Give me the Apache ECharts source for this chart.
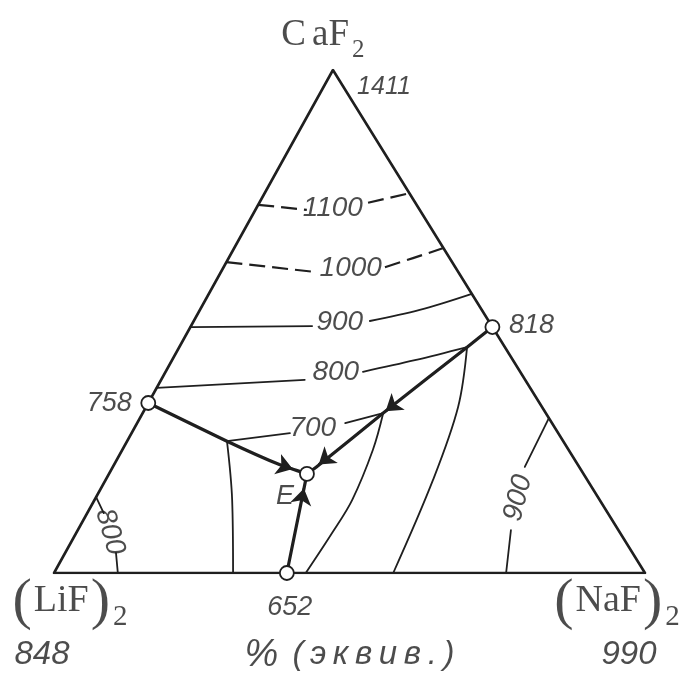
<!DOCTYPE html>
<html>
<head>
<meta charset="utf-8">
<script src="https://cdn.jsdelivr.net/npm/echarts@6/dist/echarts.min.js"></script>
<style>
  html, body { margin: 0; padding: 0; background: #ffffff; }
  #chart { width: 689px; height: 679px; }
</style>
</head>
<body>
<div id="chart"></div>
<script>
// Compositions are written as [NaF %, CaF2 %] (equivalent %); the rest is (LiF)2.

// Corners of the diagram and melting points of the pure salts
const vertexComp = [[0, 0], [100, 0], [0, 100]];          // (LiF)2, (NaF)2, CaF2
const vertexTemps = [848, 990, 1411];

// Binary eutectics and the ternary eutectic E
const pointNames = ['758', '818', 'E', '652'];
const pointComp = [[0, 33.8], [51.1, 48.9], [33.5, 19.7], [39.4, 0]];

// Boundary curves running down to E
const boundaryLiFCaF2 = [[0, 33.8], [16.9, 26.2], [28.1, 21.5], [33.5, 19.7]];
const boundaryNaFCaF2 = [[51.1, 48.9], [48.7, 44.9], [40.7, 31.8], [34.5, 21.1], [33.5, 19.7]];
const boundaryLiFNaF = [[39.4, 0], [33.5, 19.7]];

// Isotherms (each split where its label sits)
const iso1100 = [[[0, 73.2], [8.7, 72.2]], [[18.4, 73.6], [24.5, 75.5]]];
const iso1000 = [[[0, 61.8], [16.3, 59.8]], [[27.3, 60.8], [31.2, 62.6], [35.4, 64.6]]];
const iso900 = [[[0, 48.9], [20.5, 49.1]], [[29.8, 50.1], [37.2, 52.3], [44.5, 55.5]]];
const iso800 = [[[0, 36.8], [24.3, 38.4]], [[33.4, 40.0], [41.1, 42.3], [48.7, 44.9]]];
const iso800NaF = [[[48.7, 44.9], [52.8, 33.0], [55.4, 18.5], [57.4, 0]]];
const iso800LiF = [[[0, 15.1], [2.8, 11.9]], [[8.6, 4.0], [10.8, 0]]];
const iso700 = [[[16.9, 26.2], [26.8, 27.8]], [[35.2, 29.8], [40.7, 31.8]]];
const iso700LiF = [[[16.9, 26.2], [23.3, 14.5], [30.3, 0]]];
const iso700NaF = [[[40.7, 31.8], [42.4, 24.5], [43.6, 14.5], [43.3, 8.0], [42.6, 0]]];
const iso900NaF = [[[69.2, 30.8], [69.7, 21.1]], [[73.3, 8.5], [76.5, 0]]];

// Isotherm labels
const isoLabelText = ['1100', '1000', '900', '800', '700', '800', '900'];
const isoLabelAt = [[12.9, 72.6], [21.6, 60.6], [24.8, 49.9], [28.8, 40.0], [30.2, 28.8], [5.6, 8.2], [71.5, 14.9]];

const axisNote = ['%', '(эквив.)'];

// ---- drawing ----
const INK = '#1f1f1f';
const APEX = 0.472;                 // horizontal position of the CaF2 corner along the base
const NUM_FONT = '"Liberation Sans Narrow", "Liberation Sans", sans-serif';
const ITALIC_FONT = '"Liberation Sans", sans-serif';
const SERIF = '"Liberation Serif", "DejaVu Serif", serif';

function xy(p) { return [p[0] + APEX * p[1], p[1]]; }

function path(points, width, extra) {
  return Object.assign({
    type: 'line',
    data: points.map(xy),
    symbol: 'none',
    showSymbol: false,
    silent: true,
    lineStyle: { color: INK, width: width, cap: 'round', join: 'round' },
    z: 3
  }, extra || {});
}

const series = [];

// triangle frame
series.push(path([vertexComp[0], vertexComp[1], vertexComp[2], vertexComp[0]], 2.6, { z: 4 }));

// isotherms
const solidIsotherms = [iso900, iso800, iso800NaF, iso800LiF, iso700, iso700LiF, iso700NaF, iso900NaF];
solidIsotherms.forEach(function (iso) {
  iso.forEach(function (seg) {
    series.push(path(seg, 1.8, { smooth: seg.length > 2 ? 0.35 : false }));
  });
});
[iso1100, iso1000].forEach(function (iso) {
  iso.forEach(function (seg) {
    const s = path(seg, 2.2, { smooth: seg.length > 2 ? 0.35 : false });
    s.lineStyle.type = [16, 7];
    s.lineStyle.cap = 'butt';
    series.push(s);
  });
});

// boundary curves
[boundaryLiFCaF2, boundaryNaFCaF2, boundaryLiFNaF].forEach(function (b) {
  series.push(path(b, 3.2, { z: 5, smooth: b.length > 2 ? 0.2 : false }));
});

// eutectic points
series.push({
  type: 'scatter',
  data: pointComp.map(xy),
  symbol: 'circle',
  symbolSize: 14,
  silent: true,
  itemStyle: { color: '#ffffff', borderColor: INK, borderWidth: 1.8, opacity: 1 },
  z: 10
});

// isotherm labels
const isoTilt = [0, 0, 0, 0, 0, -74, 76];
series.push({
  type: 'scatter',
  symbolSize: 0,
  silent: true,
  clip: false,
  data: isoLabelAt.map(function (p, i) {
    return { value: xy(p), label: { formatter: isoLabelText[i], rotate: isoTilt[i] } };
  }),
  label: {
    show: true, position: 'inside', color: INK,
    fontFamily: NUM_FONT, fontStyle: 'italic', fontSize: 28
  },
  z: 12
});

// point labels (temperatures of the eutectics, E)
const pointLabelOffset = [[-39, 0], [39, -2], [-22, 23], [3, 34]];
series.push({
  type: 'scatter',
  symbolSize: 0,
  silent: true,
  clip: false,
  data: pointComp.map(function (p, i) {
    return { value: xy(p), label: { formatter: pointNames[i], offset: pointLabelOffset[i] } };
  }),
  label: {
    show: true, position: 'inside', color: INK,
    fontFamily: NUM_FONT, fontStyle: 'italic', fontSize: 27
  },
  z: 12
});

// corner names and melting points
const vertexRich = {
  p: { fontFamily: SERIF, fontSize: 58, color: INK, verticalAlign: 'bottom' },
  t: { fontFamily: SERIF, fontSize: 38, color: INK, verticalAlign: 'bottom', padding: [0, 2, 12, 2] },
  c: { fontFamily: SERIF, fontSize: 37, color: INK, verticalAlign: 'bottom', padding: [0, 6, 9, 0] },
  a: { fontFamily: SERIF, fontSize: 37, color: INK, verticalAlign: 'bottom', padding: [0, 1, 9, 0] },
  s: { fontFamily: SERIF, fontSize: 29, color: INK, verticalAlign: 'bottom', padding: [0, 0, 0, 3] },
  q: { fontFamily: SERIF, fontSize: 25, color: INK, verticalAlign: 'bottom', padding: [0, 0, 0, 2] }
};
const vertexFormat = ['{p|(}{t|LiF}{p|)}{s|2}', '{p|(}{t|NaF}{p|)}{s|2}', '{c|C}{a|aF}{q|2}'];
const vertexNameOffset = [[16, 30], [-28, 30], [-10, -30]];
const vertexTempOffset = [[-12, 82], [-16, 82], [51, 17]];
series.push({
  type: 'scatter',
  symbolSize: 0,
  silent: true,
  clip: false,
  data: vertexComp.map(function (p, i) {
    return { value: xy(p), label: { formatter: vertexFormat[i], offset: vertexNameOffset[i], rich: vertexRich } };
  }),
  label: { show: true, position: 'inside' },
  z: 12
});

const noteRich = {
  pc: { fontFamily: ITALIC_FONT, fontStyle: 'italic', fontSize: 38, color: INK, padding: [0, 14, 0, 0] },
  w: { fontFamily: ITALIC_FONT, fontStyle: 'italic', fontSize: 33, color: INK }
};
series.push({
  type: 'scatter',
  symbolSize: 0,
  silent: true,
  clip: false,
  data: vertexComp.map(function (p, i) {
    return {
      value: xy(p),
      label: {
        formatter: String(vertexTemps[i]), offset: vertexTempOffset[i],
        fontSize: i === 2 ? 25 : 33,
        fontFamily: i === 2 ? NUM_FONT : ITALIC_FONT
      }
    };
  }).concat([{
    value: xy([50, 0]),
    label: {
      formatter: '{pc|' + axisNote[0] + '}{w|' + axisNote[1].split('').join('\u2009') + '}',
      offset: [0, 82], rich: noteRich
    }
  }]),
  label: {
    show: true, position: 'inside', color: INK,
    fontFamily: NUM_FONT, fontStyle: 'italic'
  },
  z: 12
});

const chart = echarts.init(document.getElementById('chart'), null, { renderer: 'canvas' });
chart.setOption({
  backgroundColor: '#ffffff',
  animation: false,
  grid: { left: 54, right: 44, top: 70, bottom: 106 },
  xAxis: { type: 'value', min: 0, max: 100, show: false },
  yAxis: { type: 'value', min: 0, max: 100, show: false },
  series: series
});

// Arrowheads on the boundary curves, pointing the way the melt moves toward E.
// Each one sits a few pixels short of its target point along the curve.
const arrowSpecs = [
  { from: boundaryLiFCaF2[2], to: pointComp[2], gap: 7 },
  { from: boundaryNaFCaF2[2], to: pointComp[2], gap: 7 },
  { from: boundaryLiFNaF[0], to: pointComp[2], gap: 7 },
  { from: boundaryNaFCaF2[1], to: boundaryNaFCaF2[2], gap: -5 }
];
const ARROW_LEN = 16;
const arrowData = arrowSpecs.map(function (a) {
  const p0 = chart.convertToPixel({ gridIndex: 0 }, xy(a.from));
  const p1 = chart.convertToPixel({ gridIndex: 0 }, xy(a.to));
  const dx = p1[0] - p0[0], dy = p1[1] - p0[1];
  const len = Math.sqrt(dx * dx + dy * dy);
  const ux = dx / len, uy = dy / len;
  const tip = [p1[0] - ux * a.gap, p1[1] - uy * a.gap];
  const end = [tip[0] - ux * ARROW_LEN / 2, tip[1] - uy * ARROW_LEN / 2];
  const start = [end[0] - ux * 10, end[1] - uy * 10];
  return {
    coords: [
      chart.convertFromPixel({ gridIndex: 0 }, start),
      chart.convertFromPixel({ gridIndex: 0 }, end)
    ]
  };
});
chart.setOption({
  series: series.concat([{
    type: 'lines',
    coordinateSystem: 'cartesian2d',
    silent: true,
    data: arrowData,
    symbol: ['none', 'arrow'],
    symbolSize: [9, ARROW_LEN],
    lineStyle: { color: INK, width: 2.5, opacity: 1 },
    itemStyle: { color: INK },
    z: 8
  }])
});
</script>
</body>
</html>
